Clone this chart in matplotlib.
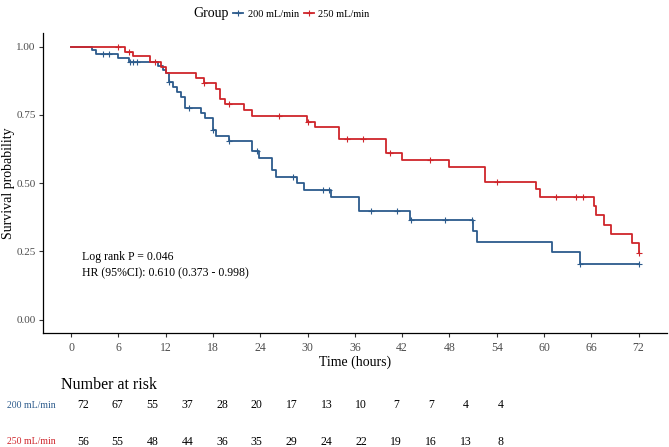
import numpy as np
import matplotlib
matplotlib.use("Agg")
import matplotlib.pyplot as plt
from matplotlib.lines import Line2D

plt.rcParams['font.family'] = ['Liberation Serif', 'DejaVu Serif']

# Kaplan-Meier step curves
t_200 = [0, 2.7, 3.2, 5.9, 7.3, 11.0, 11.6, 12.0, 12.4, 12.9, 13.4, 14.0, 14.5,
         16.5, 17.0, 18.0, 18.4, 20.0, 23.0, 23.9, 25.5, 26.0, 28.6, 29.5, 33.0,
         36.5, 43.0, 51.0, 51.5, 61.0, 64.5, 72.0]
s_200 = [1.0, 0.986, 0.972, 0.958, 0.944, 0.930, 0.916, 0.902, 0.872, 0.851, 0.835, 0.815, 0.777,
         0.756, 0.737, 0.695, 0.674, 0.656, 0.616, 0.592, 0.549, 0.524, 0.500, 0.476, 0.451,
         0.399, 0.366, 0.326, 0.285, 0.246, 0.205, 0.205]
cens_200 = [4.0, 4.8, 7.5, 7.9, 8.4, 12.4, 14.9, 18.0, 20.0, 23.6, 28.1, 32.0, 32.7,
            38.0, 41.4, 43.1, 47.5, 50.9, 64.6, 72.0]

t_250 = [0, 6.9, 7.9, 10.0, 11.4, 12.0, 15.9, 16.9, 18.4, 18.9, 19.5, 22.0, 23.0,
         29.9, 31.0, 34.0, 40.0, 42.0, 48.0, 52.5, 59.0, 59.5, 66.3, 66.6, 67.6,
         68.5, 71.1, 72.0]
s_250 = [1.0, 0.982, 0.964, 0.945, 0.927, 0.905, 0.884, 0.866, 0.846, 0.807, 0.789, 0.768, 0.746,
         0.725, 0.704, 0.660, 0.612, 0.585, 0.559, 0.505, 0.478, 0.450, 0.416, 0.382, 0.348,
         0.314, 0.279, 0.244]
cens_250 = [5.9, 7.4, 10.6, 16.9, 20.0, 26.4, 30.0, 35.0, 37.0, 40.5, 45.5, 54.0,
            61.5, 64.1, 65.0, 72.0]

groups = ['200 mL/min', '250 mL/min']
colors = ['#2c5b8c', '#cf252b']

risk_times = [0, 6, 12, 18, 24, 30, 36, 42, 48, 54, 60, 66, 72]
risk_200 = [72, 67, 55, 37, 28, 20, 17, 13, 10, 7, 7, 4, 4]
risk_250 = [56, 55, 48, 44, 36, 35, 29, 24, 22, 19, 16, 13, 8]

W, H = 669, 447
fig = plt.figure(figsize=(W / 100, H / 100), dpi=100)

def box(l, r, t, b):
    return [l / W, 1 - b / H, (r - l) / W, (b - t) / H]

ax = fig.add_axes(box(42.7, 667, 33, 333.3))

curves = [(t_200, s_200, cens_200), (t_250, s_250, cens_250)]
for (tt, ss, cc), col in zip(curves, colors):
    tt = np.array(tt); ss = np.array(ss)
    ax.step(tt, ss, where='post', color=col, lw=1.3)
    idx = np.searchsorted(tt, cc, side='right') - 1
    ax.plot(cc, ss[idx], ls='none', marker='+', ms=5, mew=0.8, color=col)

ax.set_xlim(-3.6, 75.6)
ax.set_ylim(-0.05, 1.05)
ax.set_xticks(risk_times)
ax.set_yticks([0, 0.25, 0.5, 0.75, 1.0])
ax.set_yticklabels(['0.00', '0.25', '0.50', '0.75', '1.00'])
ax.tick_params(labelsize=8, labelcolor='#4d4d4d', color='#333333', length=3, width=0.8, pad=2)
ax.tick_params(axis='x', labelsize=8.5, pad=3)
for side in ['top', 'right']:
    ax.spines[side].set_visible(False)
for side in ['left', 'bottom']:
    ax.spines[side].set_linewidth(0.9)
ax.set_xlabel('Time (hours)', fontsize=10, labelpad=1)
fig.text(9 / W, 1 - 183 / H, 'Survival probability', fontsize=10, rotation=90,
         ha='center', va='center')

ax.text(1.4, 0.229, 'Log rank P = 0.046', fontsize=8.5, va='center')
ax.text(1.4, 0.168, 'HR (95%CI): 0.610 (0.373 - 0.998)', fontsize=8.5, va='center')

# legend on top
fig.text(229 / W, 1 - 14 / H, 'Group', fontsize=10, ha='right', va='center')
handles = [Line2D([], [], color=c, lw=1.3, marker='+', ms=5, mew=0.8) for c in colors]
fig.legend(handles, groups, loc='center left', bbox_to_anchor=(233 / W, 1 - 14 / H),
           ncol=2, frameon=False, fontsize=7.5, handlelength=1.0, handletextpad=0.4,
           columnspacing=0.5, borderaxespad=0, borderpad=0)

# number at risk table
rax = fig.add_axes(box(61.8, 521.6, 395, 450))
rax.set_xlim(-3.6, 75.6)
rax.set_ylim(0, 1)
rax.axis('off')
rows = [risk_200, risk_250]
row_y = [405, 441.7]
for vals, yy, col, name in zip(rows, row_y, colors, groups):
    fy = 1 - yy / H
    fig.text(56 / W, fy, name, fontsize=7, color=col, ha='right', va='center')
    for tx, v in zip(risk_times, vals):
        rax.text(tx, (450 - yy) / 55, str(v), fontsize=8.5, ha='center', va='center')
fig.text(61 / W, 1 - 385 / H, 'Number at risk', fontsize=11.5, ha='left', va='center')

fig.savefig('out.png', dpi=100)
